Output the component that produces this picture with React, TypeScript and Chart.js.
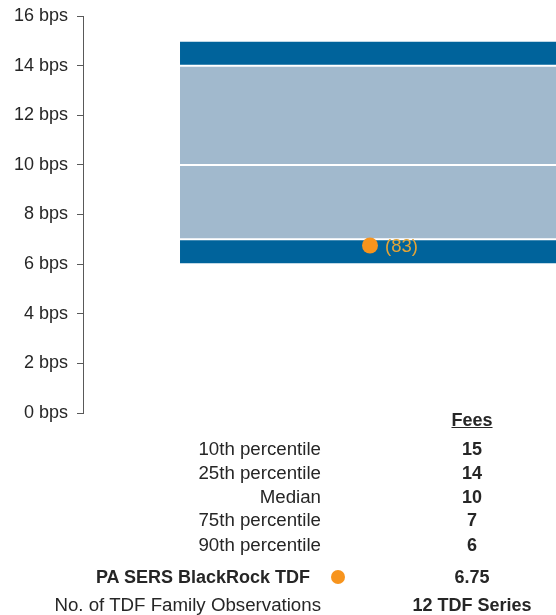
import React, { useEffect, useRef } from "react";
import { Chart, registerables } from "chart.js";

Chart.register(...registerables);

const categories = ["TDF Fees"];
const percentileLabels = ["10th percentile", "25th percentile", "Median", "75th percentile", "90th percentile"];
const percentileValues = [15, 14, 10, 7, 6];
const fundName = "PA SERS BlackRock TDF";
const fundValues = [6.75];
const fundRank = 83;
const observationsLabel = "No. of TDF Family Observations";
const observationsValue = "12 TDF Series";
const tableHeader = "Fees";
const yMin = 0;
const yMax = 16;
const yStep = 2;
const tickSuffix = " bps";

const DARK = "#00639B";
const LIGHT = "#A1B9CD";
const ORANGE = "#F7941D";
const LABEL_ORANGE = "#E3A437";
const TEXT = "#262626";
const FONT = "'Liberation Sans', Arial, sans-serif";

const rankLabelPlugin = {
  id: "rankLabel",
  afterDatasetsDraw(chart: any) {
    const idx = chart.data.datasets.findIndex((d: any) => d.isFund);
    if (idx < 0) return;
    const meta = chart.getDatasetMeta(idx);
    const pt = meta.data[0];
    if (!pt) return;
    const ctx = chart.ctx;
    ctx.save();
    ctx.font = `18.5px ${FONT}`;
    ctx.fillStyle = LABEL_ORANGE;
    ctx.textAlign = "left";
    ctx.textBaseline = "middle";
    ctx.fillText(`(${fundRank})`, pt.x + 15, pt.y + 1);
    ctx.restore();
  },
};

export default function App() {
  const ref = useRef<HTMLCanvasElement | null>(null);

  useEffect(() => {
    if (!ref.current) return;
    const sorted = [...percentileValues].sort((a, b) => a - b);
    const segColors = [DARK, LIGHT, LIGHT, DARK];
    const segDatasets = [] as any[];
    for (let i = 0; i < sorted.length - 1; i++) {
      segDatasets.push({
        type: "bar",
        data: [[sorted[i], sorted[i + 1]]],
        backgroundColor: segColors[i] || LIGHT,
        borderColor: "#ffffff",
        borderWidth: { top: 1, bottom: 1, left: 0, right: 0 },
        borderSkipped: false,
        grouped: false,
        barPercentage: 0.662,
        categoryPercentage: 1,
        order: 2,
      });
    }
    const chart = new Chart(ref.current, {
      type: "bar",
      data: {
        labels: categories,
        datasets: [
          ...segDatasets,
          {
            type: "line",
            isFund: true,
            data: fundValues,
            showLine: false,
            pointRadius: 8,
            pointHoverRadius: 8,
            pointBackgroundColor: ORANGE,
            pointBorderColor: ORANGE,
            pointBorderWidth: 0,
            order: 0,
          } as any,
        ],
      },
      options: {
        animation: false,
        responsive: false,
        devicePixelRatio: 1,
        layout: { padding: { left: 8, top: 16, right: 0, bottom: 202 } },
        plugins: { legend: { display: false }, tooltip: { enabled: false } },
        scales: {
          x: { display: false, offset: true },
          y: {
            min: yMin,
            max: yMax,
            afterFit: (scale: any) => {
              scale.width = 75;
              scale.paddingTop = 0;
              scale.paddingBottom = 0;
            },
            ticks: {
              stepSize: yStep,
              padding: 9,
              color: TEXT,
              font: { family: FONT, size: 18 },
              callback: (v: any) => `${v}${tickSuffix}`,
            },
            grid: { drawOnChartArea: false, drawTicks: true, tickLength: 6, color: "#595959" },
            border: { display: true, color: "#595959", width: 1 },
          },
        },
      } as any,
      plugins: [rankLabelPlugin],
    });
    return () => chart.destroy();
  }, []);

  const rowStyle = (cy: number): React.CSSProperties => ({
    position: "absolute",
    top: cy - 12,
    height: 24,
    lineHeight: "24px",
    fontSize: 18.7,
    fontFamily: FONT,
    color: TEXT,
    whiteSpace: "nowrap",
  });
  const labelStyle = (cy: number, bold = false): React.CSSProperties => ({
    ...rowStyle(cy),
    right: 556 - 321,
    textAlign: "right",
    fontWeight: bold ? "bold" : "normal",
    fontSize: bold ? 18 : 18.7,
  });
  const valueStyle = (cy: number): React.CSSProperties => ({
    ...rowStyle(cy),
    left: 372,
    width: 200,
    textAlign: "center",
    fontWeight: "bold",
    fontSize: 18,
  });
  const rowYs = [449, 473, 497, 520, 545];

  return (
    <div style={{ position: "absolute", left: 0, top: 0, width: 556, height: 615, overflow: "hidden", background: "#fff" }}>
      <canvas ref={ref} width={665} height={615} style={{ position: "absolute", left: 0, top: 0, width: 665, height: 615 }} />
      <div style={{ ...valueStyle(420), textDecoration: "underline" }}>{tableHeader}</div>
      {percentileLabels.map((l, i) => (
        <React.Fragment key={l}>
          <div style={labelStyle(rowYs[i])}>{l}</div>
          <div style={valueStyle(rowYs[i])}>{percentileValues[i]}</div>
        </React.Fragment>
      ))}
      <div style={{ ...labelStyle(577, true), right: 556 - 310 }}>{fundName}</div>
      <div
        style={{
          position: "absolute",
          left: 338 - 7,
          top: 577 - 7,
          width: 14,
          height: 14,
          borderRadius: "50%",
          background: ORANGE,
        }}
      />
      <div style={valueStyle(577)}>{fundValues[0]}</div>
      <div style={labelStyle(605)}>{observationsLabel}</div>
      <div style={valueStyle(605)}>{observationsValue}</div>
    </div>
  );
}
